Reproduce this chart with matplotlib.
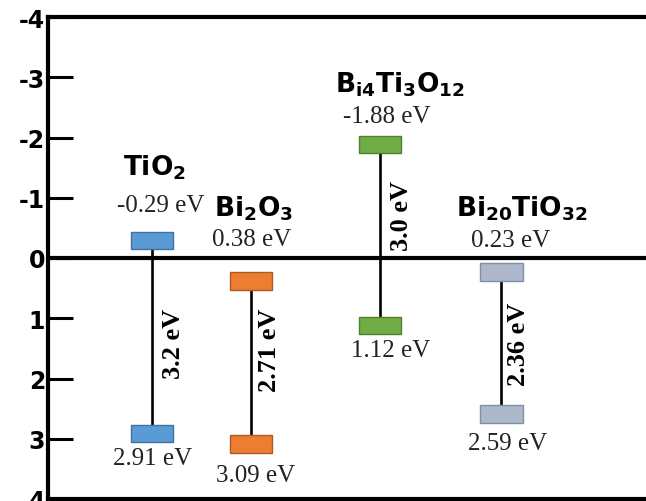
import matplotlib
matplotlib.use("Agg")
import matplotlib.pyplot as plt
from matplotlib.patches import Rectangle

# ---- data ----
compounds = [r"$\mathbf{TiO_2}$", r"$\mathbf{Bi_2O_3}$",
             r"$\mathbf{B_{i4}Ti_3O_{12}}$", r"$\mathbf{Bi_{20}TiO_{32}}$"]
cb_values = [-0.29, 0.38, -1.88, 0.23]   # conduction band (eV)
vb_values = [2.91, 3.09, 1.12, 2.59]     # valence band (eV)
gap_labels = ["3.2 eV", "2.71 eV", "3.0 eV", "2.36 eV"]
y_ticks = [-4, -3, -2, -1, 0, 1, 2, 3, 4]

# ---- layout / style ----
x_pos = [1.043, 2.037, 3.331, 4.546]
face_colors = ["#5B9BD5", "#ED7D31", "#70AD47", "#ADB9CA"]
edge_colors = ["#41719C", "#AE5A21", "#507E32", "#7F8FA6"]
rect_w, rect_h = 0.43, 0.29
name_pos = [(1.07, -1.39), (2.06, -0.70), (3.53, -2.76), (4.75, -0.70)]
cb_lab_pos = [(1.134, -0.78), (2.047, -0.22), (3.40, -2.26), (4.645, -0.20)]
vb_lab_pos = [(1.053, 3.42), (2.087, 3.70), (3.44, 1.63), (4.615, 3.17)]
gap_lab_pos = [(1.264, 1.41), (2.227, 1.51), (3.542, -0.71), (4.716, 1.41)]

plt.rcParams['mathtext.fontset'] = 'custom'
plt.rcParams['mathtext.bf'] = 'DejaVu Sans:bold'
plt.rcParams['mathtext.rm'] = 'DejaVu Sans'
plt.rcParams['mathtext.it'] = 'DejaVu Sans:italic'

fig = plt.figure(figsize=(6.46, 5.02), dpi=100)
ax = fig.add_axes([48/646, 1 - 500/502, 1 - 48/646, (500 - 18)/502])
ax.set_xlim(0, 6)
ax.set_ylim(4, -4)

for s in ['left', 'top', 'bottom']:
    ax.spines[s].set_linewidth(3)
    ax.spines[s].set_color('black')
ax.spines['right'].set_visible(False)

ax.set_yticks(y_ticks)
ax.set_yticklabels([str(t) for t in y_ticks], fontfamily='DejaVu Sans',
                   fontweight='bold', fontsize=17)
ax.tick_params(axis='y', direction='in', length=18, width=2.2, pad=2)
ax.set_xticks([])

ax.axhline(0, color='black', lw=3, zorder=2)

serif = 'Liberation Serif'
for i in range(len(compounds)):
    x = x_pos[i]
    cb, vb = cb_values[i], vb_values[i]
    ax.plot([x, x], [cb + rect_h/2, vb - rect_h/2], color='black', lw=1.9, zorder=3)
    for v in (cb, vb):
        ax.add_patch(Rectangle((x - rect_w/2, v - rect_h/2), rect_w, rect_h,
                               facecolor=face_colors[i], edgecolor=edge_colors[i],
                               lw=1.0, zorder=4))
    ax.text(*name_pos[i], compounds[i], fontsize=19, ha='center', va='baseline',
            color='black')
    ax.text(*cb_lab_pos[i], f"{cb:.2f} eV", fontsize=18, family=serif,
            ha='center', va='baseline', color='#222222')
    ax.text(*vb_lab_pos[i], f"{vb:.2f} eV", fontsize=18, family=serif,
            ha='center', va='baseline', color='#222222')
    ax.text(*gap_lab_pos[i], gap_labels[i], fontsize=19, family=serif,
            fontweight='bold', rotation=90, ha='center', va='center',
            color='black')

fig.savefig("out.png", dpi=100)
